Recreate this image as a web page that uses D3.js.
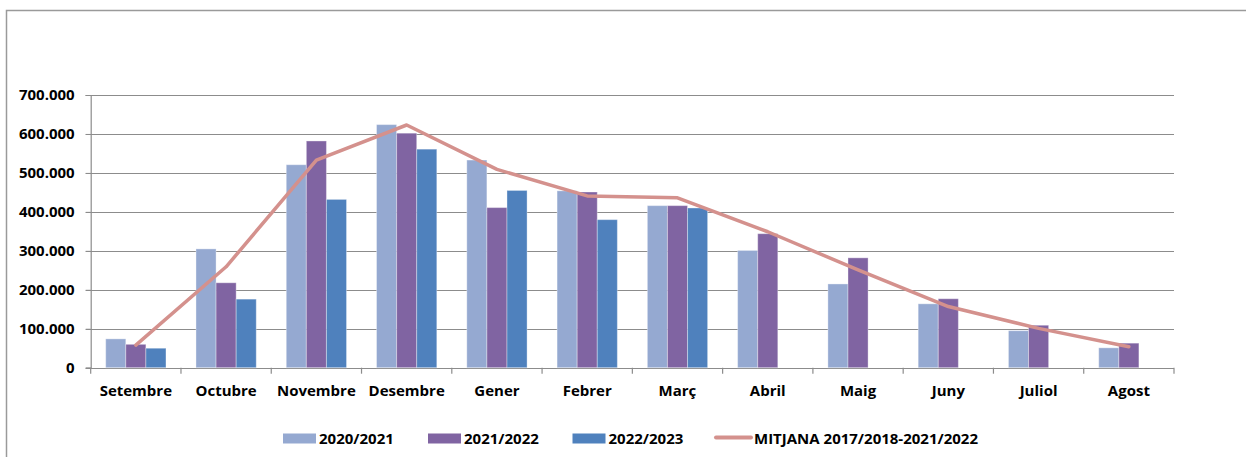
<!DOCTYPE html>
<html>
<head>
<meta charset="utf-8">
<script src="https://cdn.jsdelivr.net/npm/d3@7"></script>
<style>
	body { margin: 0; background: #fff; }
	svg { display: block; font-family: "Open Sans", sans-serif; font-weight: bold; }
</style>
</head>
<body>
<div id="chart"></div>
<script>

var months = ['Setembre', 'Octubre', 'Novembre', 'Desembre', 'Gener', 'Febrer', 'Març', 'Abril', 'Maig', 'Juny', 'Juliol', 'Agost'];
var seriesNames = ['2020/2021', '2021/2022', '2022/2023'];
var lineName = 'MITJANA 2017/2018-2021/2022';

var values2020 = [74000, 305000, 521000, 624000, 533000, 454000, 416000, 301000, 215000, 164000, 95000, 51000];
var values2021 = [60000, 218000, 582000, 602000, 411000, 451000, 416000, 344000, 282000, 177000, 109000, 63000];
var values2022 = [50000, 176000, 432000, 561000, 455000, 380000, 410000, null, null, null, null, null];
var averageValues = [58000, 259000, 533000, 623000, 509000, 441000, 436000, 349000, 251000, 157000, 101000, 54000];

var yTicks = [0, 100000, 200000, 300000, 400000, 500000, 600000, 700000];

var barColors = ['#95a9d1', '#8064a2', '#4f81bd'];
var lineColor = '#d4918d';
var gridColor = '#8c8c8c';

var width = 1246, height = 457;
var plotLeft = 90.7, plotRight = 1174, plotTop = 95, plotBottom = 367.7;

var fmt = d3.formatLocale({ decimal: ',', thousands: '.', grouping: [3], currency: ['', ''] }).format(',d');

var svg = d3.select('#chart').append('svg')
	.attr('width', width)
	.attr('height', height);

// outer frame
svg.append('path')
	.attr('d', 'M6.5,' + height + 'V10.5H' + width)
	.attr('fill', 'none')
	.attr('stroke', '#9a9a9a')
	.attr('stroke-width', 1.5);

var x = d3.scaleBand()
	.domain(months)
	.range([plotLeft, plotRight])
	.paddingInner(0)
	.paddingOuter(0);

var xInner = d3.scaleBand()
	.domain(seriesNames)
	.range([15, x.bandwidth() - 15]);

var y = d3.scaleLinear()
	.domain([0, 700000])
	.range([plotBottom, plotTop]);

// grid lines
svg.append('g')
	.selectAll('line')
	.data(yTicks)
	.enter()
	.append('line')
	.attr('x1', plotLeft - 5)
	.attr('x2', plotRight)
	.attr('y1', function(d) { return Math.round(y(d)) + 0.5; })
	.attr('y2', function(d) { return Math.round(y(d)) + 0.5; })
	.attr('stroke', gridColor)
	.attr('stroke-width', 1.2);

// y axis
var yAxis = svg.append('g')
	.attr('transform', 'translate(' + plotLeft + ',0)')
	.call(d3.axisLeft(y).tickValues(yTicks).tickFormat(fmt).tickSize(5).tickPadding(11));
yAxis.select('.domain').attr('stroke', gridColor).attr('stroke-width', 1.2);
yAxis.selectAll('.tick line').attr('stroke', gridColor);
yAxis.selectAll('text')
	.attr('font-family', '"Open Sans", sans-serif')
	.attr('font-weight', 'bold')
	.attr('font-size', 15)
	.attr('fill', '#000');

// category ticks
svg.append('g')
	.selectAll('line')
	.data(months.concat(['end']))
	.enter()
	.append('line')
	.attr('x1', function(d, i) { return plotLeft + i * x.bandwidth(); })
	.attr('x2', function(d, i) { return plotLeft + i * x.bandwidth(); })
	.attr('y1', plotBottom)
	.attr('y2', plotBottom + 6)
	.attr('stroke', gridColor)
	.attr('stroke-width', 1.2);

// bars
var allSeries = [values2020, values2021, values2022];
var rows = [];
allSeries.forEach(function(vals, s) {
	vals.forEach(function(v, i) {
		if (v !== null) {
			rows.push({ month: months[i], series: seriesNames[s], value: v, s: s });
		}
	});
});

svg.append('g')
	.selectAll('rect')
	.data(rows)
	.enter()
	.append('rect')
	.attr('x', function(d) { return x(d.month) + xInner(d.series); })
	.attr('y', function(d) { return y(d.value); })
	.attr('width', xInner.bandwidth())
	.attr('height', function(d) { return y(0) - y(d.value); })
	.attr('fill', function(d) { return barColors[d.s]; })
	.attr('stroke', 'rgba(255,255,255,0.35)')
	.attr('stroke-width', 1);

// average line
var line = d3.line()
	.x(function(d, i) { return x(months[i]) + x.bandwidth() / 2; })
	.y(function(d) { return y(d); });

svg.append('path')
	.datum(averageValues)
	.attr('d', line)
	.attr('fill', 'none')
	.attr('stroke', lineColor)
	.attr('stroke-width', 3.5)
	.attr('stroke-linejoin', 'round')
	.attr('stroke-linecap', 'round');

// month labels
svg.append('g')
	.selectAll('text')
	.data(months)
	.enter()
	.append('text')
	.attr('x', function(d) { return x(d) + x.bandwidth() / 2; })
	.attr('y', 396)
	.attr('text-anchor', 'middle')
	.attr('font-size', 15)
	.text(function(d) { return d; });

// legend
var legend = svg.append('g');
var legendX = [283, 428, 572.5];
seriesNames.forEach(function(name, i) {
	legend.append('rect')
		.attr('x', legendX[i])
		.attr('y', 433.5)
		.attr('width', 33)
		.attr('height', 10)
		.attr('fill', barColors[i]);
	legend.append('text')
		.attr('x', legendX[i] + 36)
		.attr('y', 444)
		.attr('font-size', 15)
		.text(name);
});
legend.append('line')
	.attr('x1', 716)
	.attr('x2', 751)
	.attr('y1', 437.5)
	.attr('y2', 437.5)
	.attr('stroke', lineColor)
	.attr('stroke-width', 4)
	.attr('stroke-linecap', 'round');
legend.append('text')
	.attr('x', 754)
	.attr('y', 444)
	.attr('font-size', 15)
	.text(lineName);

</script>
</body>
</html>
